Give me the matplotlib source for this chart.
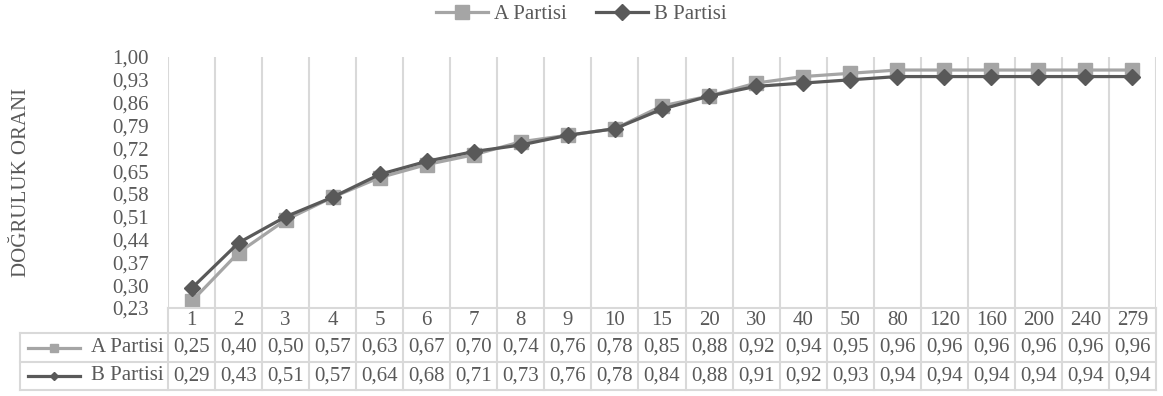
import matplotlib.pyplot as plt
from matplotlib.lines import Line2D

plt.rcParams['font.family'] = ['Liberation Serif', 'DejaVu Serif']

categories = ['1', '2', '3', '4', '5', '6', '7', '8', '9', '10', '15', '20',
              '30', '40', '50', '80', '120', '160', '200', '240', '279']
a_partisi = [0.25, 0.40, 0.50, 0.57, 0.63, 0.67, 0.70, 0.74, 0.76, 0.78, 0.85,
             0.88, 0.92, 0.94, 0.95, 0.96, 0.96, 0.96, 0.96, 0.96, 0.96]
b_partisi = [0.29, 0.43, 0.51, 0.57, 0.64, 0.68, 0.71, 0.73, 0.76, 0.78, 0.84,
             0.88, 0.91, 0.92, 0.93, 0.94, 0.94, 0.94, 0.94, 0.94, 0.94]
y_ticks = [0.23, 0.30, 0.37, 0.44, 0.51, 0.58, 0.65, 0.72, 0.79, 0.86, 0.93, 1.00]

TEXT = '#595959'
GRID = '#D9D9D9'
A_COLOR = '#A5A5A5'
B_COLOR = '#595959'
FS = 15

W, H = 1163, 396
fig = plt.figure(figsize=(W / 100, H / 100), dpi=100)

# pixel layout of plot area and data table
plot_l, plot_r, plot_t, plot_b = 168, 1156, 57, 308
tab_l, row_edges = 20, [308, 333, 362, 390]

n = len(categories)
x = [i + 0.5 for i in range(n)]

ax = fig.add_axes([plot_l / W, 1 - plot_b / H, (plot_r - plot_l) / W, (plot_b - plot_t) / H])
ax.plot(x, a_partisi, color=A_COLOR, lw=2.3, marker='s', ms=10, label='A Partisi', zorder=3)
ax.plot(x, b_partisi, color=B_COLOR, lw=2.3, marker='D', ms=8.5, label='B Partisi', zorder=4)
ax.set_xlim(0, n)
ax.set_ylim(0.23, 1.00)
ax.set_xticks(range(n + 1))
ax.set_xticklabels([])
ax.set_yticks(y_ticks)
ax.set_yticklabels([f'{v:.2f}'.replace('.', ',') for v in y_ticks])
ax.tick_params(axis='both', length=0, labelsize=FS, labelcolor=TEXT)
ax.tick_params(axis='y', pad=14)
ax.grid(axis='x', color=GRID, lw=1.5)
for s in ax.spines.values():
    s.set_visible(False)

fig.text(22 / W, 1 - 182 / H, 'DOĞRULUK ORANI', rotation=90, ha='center', va='center',
         fontsize=FS, color=TEXT)

fig.legend(loc='center', bbox_to_anchor=(0.5, 1 - 14 / H), ncol=2, frameon=False,
           fontsize=FS, labelcolor=TEXT, handlelength=2.5, columnspacing=1.4,
           handletextpad=0.3)

# data table under the plot, drawn in pixel units
tab = fig.add_axes([tab_l / W, 1 - row_edges[-1] / H, (plot_r - tab_l) / W,
                    (row_edges[-1] - row_edges[0]) / H])
tab.set_xlim(tab_l, plot_r)
tab.set_ylim(row_edges[-1], row_edges[0])
tab.axis('off')
col_w = (plot_r - plot_l) / n
col_edges = [plot_l + i * col_w for i in range(n + 1)]
lw = 1.5
for ce in col_edges:
    tab.plot([ce, ce], [row_edges[0], row_edges[-1]], color=GRID, lw=lw, clip_on=False)
tab.plot([tab_l, tab_l], [row_edges[1], row_edges[-1]], color=GRID, lw=lw, clip_on=False)
tab.plot([plot_l, plot_r], [row_edges[0], row_edges[0]], color=GRID, lw=lw, clip_on=False)
for re in row_edges[1:]:
    tab.plot([tab_l, plot_r], [re, re], color=GRID, lw=lw, clip_on=False)

rows = [categories,
        [f'{v:.2f}'.replace('.', ',') for v in a_partisi],
        [f'{v:.2f}'.replace('.', ',') for v in b_partisi]]
for r, vals in enumerate(rows):
    yc = (row_edges[r] + row_edges[r + 1]) / 2
    for i, v in enumerate(vals):
        tab.text((col_edges[i] + col_edges[i + 1]) / 2, yc, v, ha='center', va='center',
                 fontsize=FS, color=TEXT)

series = [('A Partisi', A_COLOR, 's', 5.5), ('B Partisi', B_COLOR, 'D', 4)]
for r, (name, color, mk, ms) in enumerate(series, start=1):
    yc = (row_edges[r] + row_edges[r + 1]) / 2
    tab.add_line(Line2D([28, 80], [yc, yc], color=color, lw=2.3))
    tab.add_line(Line2D([54], [yc], color=color, marker=mk, ms=ms))
    tab.text(plot_l - 4, yc, name, ha='right', va='center', fontsize=FS, color=TEXT)

fig.savefig('out.png', dpi=100)
